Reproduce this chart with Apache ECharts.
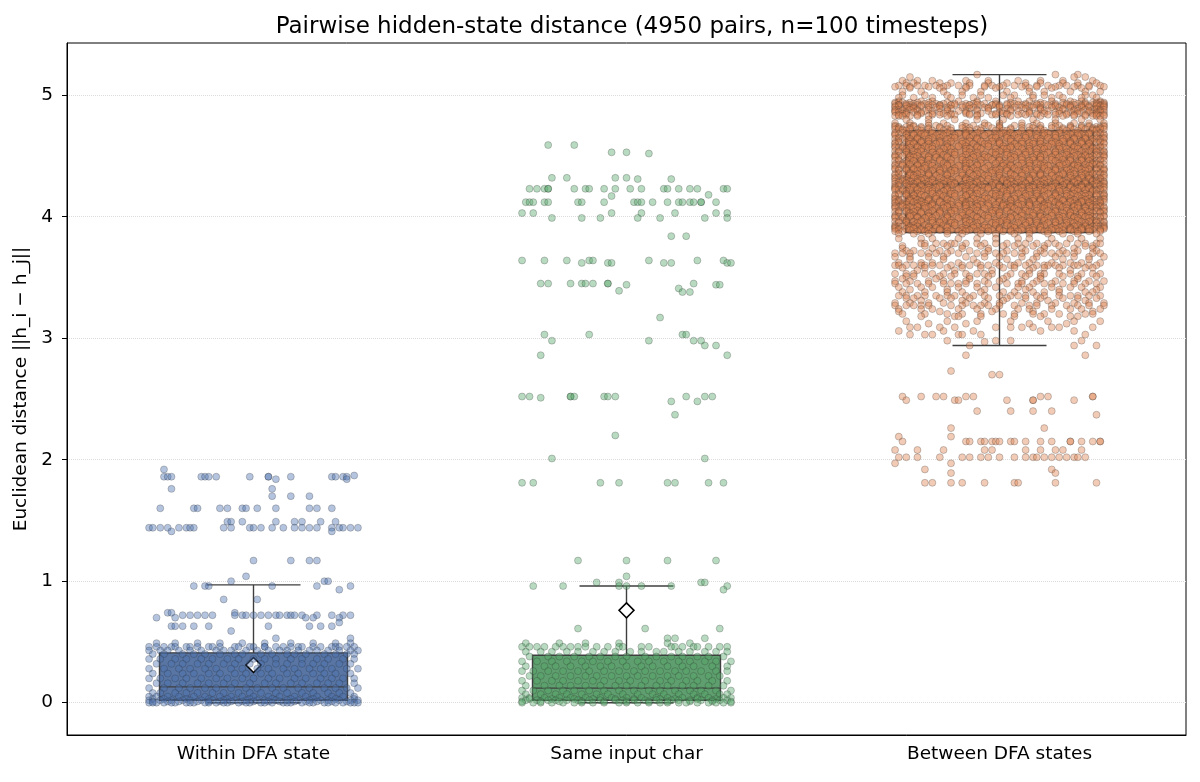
<!DOCTYPE html>
<html>
<head>
<meta charset="utf-8">
<title>Pairwise hidden-state distance</title>
<script src="https://cdn.jsdelivr.net/npm/echarts@6/dist/echarts.min.js"></script>
<style>
  html, body { margin: 0; padding: 0; background: #fff; }
  #main { width: 1200px; height: 782px; }
</style>
</head>
<body>
<div id="main"></div>
<script>
// ---- data ----
var categories = ['Within DFA state', 'Same input char', 'Between DFA states'];

// [lower whisker, Q1, median, Q3, upper whisker]
var boxStats = [
    [0.00, 0.02, 0.13, 0.41, 0.97],
    [0.00, 0.02, 0.12, 0.39, 0.96],
    [2.94, 3.87, 4.27, 4.71, 5.17]
];
// third mean marker is not visible in the picture (buried under the points)
var meanValues = [0.31, 0.76, null];

// jittered points, one row per distance level: [distance, [x offsets in 1/100 of a category]]
var withinRows = [
    [1.92, [-24]],
    [1.87, [27]],
    [1.86, [-24, -23, -22, -14, -13, -12, -10, -1, 4, 4, 10, 21, 22, 24, 25]],
    [1.84, [6, 25]],
    [1.76, [-22, 5]],
    [1.70, [5, 10, 15]],
    [1.60, [-25, -16, -15, -9, -7, -3, -2, 1, 6, 15, 17, 21]],
    [1.49, [-7, -6, -3, 6, 11, 13, 18, 22]],
    [1.44, [-28, -27, -25, -23, -20, -18, -17, -16, -8, -6, -1, 0, 2, 5, 8, 11, 13, 15, 17, 21, 23, 24, 26, 28]],
    [1.41, [-22, 21]],
    [1.17, [0, 10, 15, 17]],
    [1.04, [-2]],
    [1.00, [-6, 19, 20]],
    [0.96, [-16, -13, -12, 5, 17, 26]],
    [0.93, [23]],
    [0.85, [-8, 1]],
    [0.74, [-23, -22, -5]],
    [0.72, [-19, -17, -15, -13, -11, -5, -3, -2, 0, 2, 4, 6, 7, 9, 10, 11, 13, 17, 21, 24, 26]],
    [0.70, [-26, -21, 14, 16, 23]],
    [0.66, [23]],
    [0.63, [-22, -21, -19, -16, -12, 4, 15, 18, 21]],
    [0.59, [-6]],
    [0.53, [6, 26]],
    [0.49, [-26, -21, -15, -9, -3, 3, 10, 16, 22, 26]],
    [0.46, [-28, -26, -24, -22, -21, -18, -17, -15, -12, -11, -9, -5, -4, -1, 0, 3, 3, 6, 8, 10, 12, 13, 16, 18, 21, 22, 23, 25, 27]],
    [0.43, [-28, -25, -23, -20, -17, -14, -10, -8, -6, -2, 1, 4, 7, 9, 12, 15, 17, 20, 23, 26, 28]],
    [0.40, [-27, -24, -19, -16, -13, -9, -5, -3, 2, 5, 9, 11, 14, 19, 22, 25, 27]],
    [0.36, [-28, -25, -21, -18, -14, -11, -7, -4, 0, 3, 6, 10, 13, 17, 20, 24, 27]],
    [0.32, [-26, -22, -19, -15, -12, -8, -5, -1, 2, 6, 9, 13, 16, 19, 23, 26]],
    [0.28, [-28, -24, -20, -17, -13, -10, -6, -3, 1, 4, 8, 11, 15, 18, 21, 25, 28]],
    [0.24, [-27, -23, -19, -16, -12, -9, -5, -2, 2, 5, 9, 12, 16, 19, 22, 26]],
    [0.20, [-28, -25, -21, -18, -14, -10, -7, -3, 0, 4, 7, 11, 14, 18, 21, 24, 27]],
    [0.16, [-26, -23, -19, -15, -12, -8, -5, -1, 3, 6, 10, 13, 17, 20, 23, 27]],
    [0.12, [-28, -24, -20, -17, -13, -10, -6, -2, 1, 5, 8, 12, 15, 19, 22, 25, 28]],
    [0.08, [-27, -25, -21, -18, -15, -11, -8, -4, -1, 2, 6, 9, 13, 16, 20, 23, 26]],
    [0.05, [-28, -26, -23, -20, -16, -13, -9, -6, -3, 0, 4, 7, 11, 14, 17, 21, 24, 27]],
    [0.03, [-27, -24, -18, -12, -7, -1, 5, 10, 16, 22, 27]],
    [0.02, [-28, -25, -22, -19, -17, -14, -11, -8, -5, -2, 1, 3, 6, 9, 12, 15, 18, 20, 23, 26, 28]],
    [0.01, [-27, -23, -20, -15, -12, -9, -6, -3, 0, 4, 7, 11, 14, 17, 21, 25]],
    [0.00, [-28, -26, -24, -21, -18, -16, -13, -10, -7, -4, -1, 2, 5, 8, 10, 13, 16, 19, 22, 24, 27, 28]],
    [0.00, [-27, -22, -17, -12, -8, -2, 3, 9, 15, 20, 26]]
];

var sameRows = [
    [4.59, [-21, -14]],
    [4.53, [-4, 0]],
    [4.52, [6]],
    [4.32, [-20, -16, -3, 0]],
    [4.31, [3, 12]],
    [4.23, [-26, -24, -22, -21, -21, -14, -11, -10, -6, -3, 1, 4, 10, 11, 14, 17, 19, 26, 27]],
    [4.18, [22]],
    [4.17, [-4]],
    [4.12, [-27, -26, -25, -22, -21, -13, -12, -6, 2, 3, 4, 7, 11, 14, 15, 17, 18, 20, 20, 24]],
    [4.03, [-28, -25, -4, 4, 13, 24, 27]],
    [3.99, [-20, -12, -7, 3, 9, 21, 27]],
    [3.84, [12, 16]],
    [3.64, [-28, -22, -16, -10, -9, 6, 19, 26]],
    [3.62, [-12, -5, -4, 10, 12, 27, 28]],
    [3.45, [-23, -21, -15, -12, -11, -9, -5, -5, 18]],
    [3.44, [0, 24, 25]],
    [3.41, [14]],
    [3.39, [-2]],
    [3.38, [15, 17]],
    [3.17, [9]],
    [3.03, [-22, -10, 15, 16]],
    [2.98, [-20, 6, 18, 20]],
    [2.94, [21, 24]],
    [2.86, [-23, 27]],
    [2.52, [-28, -26, -15, -15, -14, -6, -5, -3, 16, 21, 23]],
    [2.51, [-23]],
    [2.48, [12, 19]],
    [2.37, [13]],
    [2.20, [-3]],
    [2.01, [-20, 21]],
    [1.81, [-28, -25, -7, -2, 11, 13, 22, 26]],
    [1.17, [-13, 0, 11, 24]],
    [1.04, [0]],
    [0.99, [-8, -2, 20, 21]],
    [0.96, [-25, -17, -2, 0, 4, 12, 27]],
    [0.93, [26]],
    [0.61, [-13, 5, 25]],
    [0.53, [11, 13, 21]],
    [0.49, [-27, -18, -11, -2, 11, 17]],
    [0.46, [-28, -26, -24, -22, -19, -17, -15, -13, -11, -8, -5, -2, -1, 4, 6, 12, 13, 15, 18, 19, 22, 25, 27]],
    [0.42, [-27, -23, -20, -16, -13, -9, -6, -3, 1, 4, 8, 10, 14, 17, 21, 24, 27]],
    [0.38, [-26, -21, -18, -14, -10, -7, -3, 0, 5, 8, 12, 15, 19, 22, 26]],
    [0.34, [-28, -24, -20, -16, -12, -9, -5, -1, 3, 6, 10, 14, 17, 21, 24, 28]],
    [0.30, [-27, -22, -19, -15, -11, -7, -4, 0, 4, 7, 11, 15, 18, 23, 27]],
    [0.26, [-28, -25, -21, -17, -13, -10, -6, -2, 2, 5, 9, 13, 16, 20, 24, 27]],
    [0.22, [-26, -23, -19, -15, -11, -8, -4, 0, 3, 7, 11, 14, 18, 22, 25]],
    [0.18, [-28, -24, -20, -17, -13, -9, -6, -2, 1, 5, 9, 12, 16, 19, 23, 27]],
    [0.14, [-27, -22, -18, -15, -11, -7, -3, 0, 4, 8, 11, 15, 18, 22, 26]],
    [0.10, [-28, -25, -21, -17, -14, -10, -6, -2, 2, 6, 9, 13, 17, 20, 24, 28]],
    [0.07, [-27, -23, -19, -16, -12, -8, -5, -1, 3, 7, 10, 14, 18, 21, 25, 27]],
    [0.04, [-28, -26, -22, -18, -15, -11, -7, -4, 0, 4, 8, 11, 15, 19, 22, 26, 28]],
    [0.03, [-26, -20, -14, -9, -3, 2, 9, 13, 19, 24]],
    [0.02, [-27, -24, -21, -19, -16, -13, -10, -7, -3, -1, 2, 5, 8, 12, 14, 17, 20, 23, 25, 27]],
    [0.01, [-28, -23, -18, -12, -6, 0, 6, 11, 17, 23, 28]],
    [0.00, [-28, -25, -23, -20, -17, -14, -12, -9, -6, -2, 0, 3, 6, 9, 11, 14, 16, 19, 22, 24, 26, 28]]
];

// x offset patterns used for the packed bands of the third group
var denseA = [-28, -25, -23, -20, -17, -15, -12, -9, -7, -4, -1, 2, 4, 7, 10, 12, 15, 18, 21, 23, 26, 28];
var denseB = [-27, -24, -21, -19, -16, -13, -10, -8, -5, -2, 0, 3, 6, 9, 11, 14, 17, 19, 22, 25, 27];
var denseC = [-28, -26, -22, -20, -18, -14, -11, -9, -6, -3, 1, 3, 5, 8, 12, 13, 16, 20, 21, 24, 27];
var denseD = [-27, -25, -22, -18, -16, -13, -12, -8, -6, -2, -1, 2, 5, 7, 10, 13, 15, 18, 20, 23, 26, 28];
var denseE = [-28, -24, -23, -19, -17, -14, -10, -7, -4, -3, 0, 4, 6, 9, 11, 14, 16, 19, 22, 24, 28];
var denseF = [-26, -25, -21, -18, -15, -13, -9, -8, -5, -1, 1, 2, 6, 8, 10, 12, 16, 18, 21, 25, 26];
var denseG = [-28, -27, -26, -24, -22, -19, -14, -6, 3, 11, 17, 20, 23, 25, 26, 27, 28];
var denseH = [-28, -27, -25, -23, -21, -16, -9, 0, 8, 15, 19, 22, 24, 26, 27, 28];
var sparseA = [-27, -21, -18, -11, -6, -1, 5, 8, 14, 19, 22, 27];
var sparseB = [-25, -23, -16, -13, -8, -3, 2, 7, 11, 17, 21, 26];
var sparseC = [-28, -24, -19, -15, -9, -4, 0, 6, 10, 15, 20, 24, 28];
var sparseD = [-26, -20, -14, -10, -5, 1, 4, 9, 12, 16, 23, 25];

var betweenRows = [
    [5.17, [-6, 15, 21]],
    [5.15, [-24, 20, 23]],
    [5.12, [-26, -22, -18, -9, -3, 5, 11, 17, 25]],
    [5.10, sparseB],
    [5.08, [-27, -25, -22, -20, -17, -14, -11, -8, -4, -2, 1, 4, 7, 10, 13, 16, 18, 21, 24, 27]],
    [5.07, sparseC],
    [5.06, [-24, -16, -9, -1, 8, 14, 22]],
    [5.03, [-26, -21, -15, -10, -5, 2, 8, 12, 19, 23, 27]],
    [5.00, sparseD],
    [4.98, [-27, -23, -18, -13, -7, -3, 3, 9, 14, 17, 22, 26]],
    [4.95, sparseA],
    [4.94, denseG], [4.93, denseA], [4.92, denseB], [4.92, denseD], [4.91, denseH], [4.90, denseE],
    [4.89, sparseB], [4.88, denseG],
    [4.87, denseC], [4.86, denseH], [4.85, denseF], [4.84, denseD], [4.83, denseG],
    [4.80, [-25, -19, -12, -6, 1, 9, 15, 22, 27]],
    [4.77, sparseC],
    [4.75, denseE], [4.74, denseH], [4.73, denseB], [4.72, denseG], [4.71, denseF], [4.69, denseC],
    [4.68, denseH], [4.67, denseA], [4.65, denseD], [4.64, denseG],
    [4.62, denseB], [4.61, denseH], [4.60, denseE], [4.58, denseC], [4.57, denseG], [4.56, denseF],
    [4.54, denseH], [4.53, denseD], [4.51, denseA], [4.50, denseG],
    [4.49, denseE], [4.47, denseB], [4.46, denseH], [4.44, denseF], [4.43, denseG], [4.42, denseC],
    [4.40, denseA], [4.39, denseH], [4.38, denseD],
    [4.36, denseB], [4.35, denseG], [4.34, denseE], [4.32, denseH], [4.31, denseC], [4.30, denseF],
    [4.29, denseG], [4.28, denseD],
    [4.27, denseA], [4.26, denseB], [4.25, denseH], [4.24, denseE], [4.23, denseC], [4.22, denseG],
    [4.21, denseF], [4.19, denseD], [4.18, denseH],
    [4.17, denseA], [4.15, denseE], [4.14, denseG], [4.13, denseB], [4.12, denseH], [4.11, denseC],
    [4.10, denseF], [4.09, denseC], [4.08, denseG],
    [4.07, denseA], [4.05, denseD], [4.04, denseH], [4.03, denseB], [4.01, denseE], [4.00, denseG],
    [3.99, denseC], [3.97, denseF], [3.96, denseH],
    [3.95, denseD], [3.93, denseA], [3.92, denseG], [3.91, denseE], [3.90, denseH], [3.89, denseB],
    [3.88, denseC],
    [3.86, [-27, -23, -19, -14, -10, -5, -1, 4, 8, 13, 17, 21, 26]],
    [3.82, sparseA],
    [3.78, [-21, -20, -17, -15, -13, -12, -9, -6, -4, -1, 2, 5, 7, 10, 13, 15, 18, 21, 23, 26, 27]],
    [3.76, sparseD],
    [3.74, [-26, -18, -10, -3, 6, 12, 20, 25]],
    [3.72, sparseB],
    [3.70, [-28, -26, -24, -21, -19, -17, -14, -11, -6, -4, -1, 1, 4, 6, 10, 12, 14, 16, 18, 20, 25, 27]],
    [3.67, sparseC],
    [3.65, [-24, -15, -7, 2, 9, 17, 24]],
    [3.62, sparseA],
    [3.60, [-28, -27, -25, -23, -21, -20, -18, -16, -13, -10, -8, -5, -3, 0, 3, 4, 7, 10, 12, 13, 15, 17, 20, 21, 24, 26]],
    [3.58, sparseD],
    [3.56, [-22, -12, -2, 8, 19]],
    [3.53, [-28, -25, -23, -20, -18, -15, -12, -9, -6, -4, -2, 3, 6, 8, 11, 12, 16, 19, 22, 25, 27]],
    [3.51, sparseB],
    [3.49, [-26, -17, -8, 1, 11, 21]],
    [3.47, sparseC],
    [3.45, [-28, -25, -22, -19, -15, -13, -11, -9, -6, -3, 2, 5, 6, 9, 12, 14, 17, 20, 23, 26]],
    [3.42, sparseA],
    [3.40, [-24, -14, -4, 7, 16, 26]],
    [3.38, sparseD],
    [3.35, [-27, -25, -22, -20, -17, -14, -12, -9, -7, -4, 0, 3, 5, 7, 10, 12, 16, 19, 21, 24, 27]],
    [3.33, sparseB],
    [3.31, [-21, -10, 1, 13, 23]],
    [3.29, sparseC],
    [3.27, [-28, -25, -23, -21, -19, -13, -10, -7, -5, -3, 0, 4, 8, 10, 14, 18, 21, 24, 28]],
    [3.24, sparseA],
    [3.22, [-27, -16, -2, 9, 25]],
    [3.20, sparseD],
    [3.18, [-21, -12, -11, -5, 4, 11, 19, 21]],
    [3.14, [-25, -14, -6, 3, 13, 20, 27]],
    [3.12, [-19, -9, 8, 18]],
    [3.09, [-24, -22, -16, -12, -1, 3, 6, 9, 14, 16, 25]],
    [3.06, [-27, -15, -7, 11, 20]],
    [3.03, [-24, -20, -18, -11, -10, -5, 23]],
    [2.98, [-14, -1, 3, 22]],
    [2.97, [-4]],
    [2.94, [-8, 20, 26]],
    [2.86, [-9, 23]],
    [2.73, [-13]],
    [2.70, [-2, 0]],
    [2.52, [-26, -21, -17, -15, -9, -7, 11, 13, 25, 25]],
    [2.49, [-25, -12, -11, 2, 9, 9, 20]],
    [2.40, [-6, 3, 9, 14]],
    [2.37, [26]],
    [2.26, [-13, 12]],
    [2.19, [-27, -13]],
    [2.15, [-26, -9, -8, -5, -4, -2, -1, 0, 3, 4, 7, 11, 14, 19, 19, 22, 25, 27, 27]],
    [2.08, [-28, -22, -15, -4, -2, 7, 11, 15, 17, 22]],
    [2.02, [-27, -25, -22, -16, -10, -8, -5, -3, 0, 4, 7, 9, 10, 12, 14, 16, 18, 20, 21, 23]],
    [1.97, [-28, -13]],
    [1.92, [-20, 14]],
    [1.89, [-13, 15]],
    [1.81, [-20, -18, -13, -10, -4, 4, 5, 15, 26]]
];

// ---- styles ----
var pointColors = ['#4C72B0', '#55A868', '#DD8452'];
var boxFills = ['#5875a4', '#5f9e6e', '#cc8963'];
var lineColor = '#3f3f3f';
var fontFamily = 'DejaVu Sans';

var chartPage = (function () {
    var Return = {
        init: function () {
            initChart();
        }
    };

    var toPoints = function (cat, rows) {
        var pts = [];
        rows.forEach(function (r) {
            r[1].forEach(function (dx) {
                pts.push([cat + dx / 100, r[0]]);
            });
        });
        return pts;
    };

    var renderBox = function (params, api) {
        var c = api.value(0);
        var band = api.size([1, 0])[0];
        var bw = band * 0.252, cw = band * 0.126;
        var lo = api.coord([c, api.value(1)]);
        var q1 = api.coord([c, api.value(2)]);
        var md = api.coord([c, api.value(3)]);
        var q3 = api.coord([c, api.value(4)]);
        var hi = api.coord([c, api.value(5)]);
        var cx = md[0];
        var ls = { stroke: lineColor, lineWidth: 1.4 };
        var ln = function (x1, y1, x2, y2) {
            return { type: 'line', shape: { x1: x1, y1: y1, x2: x2, y2: y2 }, style: ls };
        };
        return {
            type: 'group',
            children: [
                { type: 'rect', shape: { x: cx - bw, y: q3[1], width: bw * 2, height: q1[1] - q3[1] },
                  style: { fill: boxFills[params.dataIndex], stroke: lineColor, lineWidth: 1.4 } },
                ln(cx - bw, md[1], cx + bw, md[1]),
                ln(cx, q3[1], cx, hi[1]),
                ln(cx, q1[1], cx, lo[1]),
                ln(cx - cw, hi[1], cx + cw, hi[1]),
                ln(cx - cw, lo[1], cx + cw, lo[1])
            ]
        };
    };

    var initChart = function () {
        var myChart = echarts.init(document.getElementById('main'));
        var series = [];
        // boxes and means sit under the points
        series.push({
            type: 'custom',
            xAxisIndex: 1,
            z: 2,
            renderItem: renderBox,
            encode: { x: 0, y: [1, 5] },
            data: boxStats.map(function (s, i) { return [i].concat(s); })
        });
        series.push({
            type: 'scatter',
            xAxisIndex: 1,
            z: 3,
            symbol: 'diamond',
            symbolSize: 15,
            data: meanValues.map(function (m, i) { return [i, m]; }).filter(function (d) { return d[1] !== null; }),
            itemStyle: { color: '#fff', borderColor: '#000', borderWidth: 1.5, opacity: 1 }
        });
        [withinRows, sameRows, betweenRows].forEach(function (rows, i) {
            series.push({
                type: 'scatter',
                xAxisIndex: 1,
                data: toPoints(i, rows),
                symbolSize: 7,
                z: 4,
                silent: true,
                itemStyle: {
                    color: pointColors[i],
                    opacity: 0.42,
                    borderColor: '#2a2a2a',
                    borderWidth: 0.6
                }
            });
        });

        var option = {
            animation: false,
            backgroundColor: '#fff',
            title: {
                text: 'Pairwise hidden-state distance (4950 pairs, n=100 timesteps)',
                left: 627,
                top: 11,
                textAlign: 'center',
                textStyle: { fontFamily: fontFamily, fontSize: 23, fontWeight: 'normal', color: '#000' }
            },
            grid: {
                left: 67, right: 14, top: 43, bottom: 47,
                show: true, borderColor: '#000', borderWidth: 1
            },
            xAxis: [{
                type: 'category',
                data: categories,
                boundaryGap: true,
                axisLine: { onZero: false, lineStyle: { color: '#000', width: 1 } },
                axisTick: { alignWithLabel: true, length: 5, lineStyle: { color: '#000' } },
                axisLabel: { fontFamily: fontFamily, fontSize: 18.5, color: '#000', margin: 10 },
                splitLine: { show: false }
            }, {
                type: 'value',
                min: -0.5,
                max: 2.5,
                show: false
            }],
            yAxis: {
                type: 'value',
                min: -0.266,
                max: 5.43,
                splitNumber: 6,
                name: 'Euclidean distance ||h_i \u2212 h_j||',
                nameLocation: 'middle',
                nameGap: 36,
                nameRotate: 90,
                nameTextStyle: { fontFamily: fontFamily, fontSize: 18.5, color: '#000' },
                axisLine: { show: true, onZero: false, lineStyle: { color: '#000', width: 1 } },
                axisTick: { show: true, length: 5, lineStyle: { color: '#000' } },
                axisLabel: { fontFamily: fontFamily, fontSize: 18.5, color: '#000', margin: 14,
                             showMinLabel: false, showMaxLabel: false },
                splitLine: { show: true, showMinLine: false, showMaxLine: false,
                             lineStyle: { color: '#dcdcdc', type: 'dotted', width: 1 } }
            },
            series: series
        };
        myChart.setOption(option);
    };
    return Return;
})();

; (function () {
    chartPage.init();
})();
</script>
</body>
</html>
